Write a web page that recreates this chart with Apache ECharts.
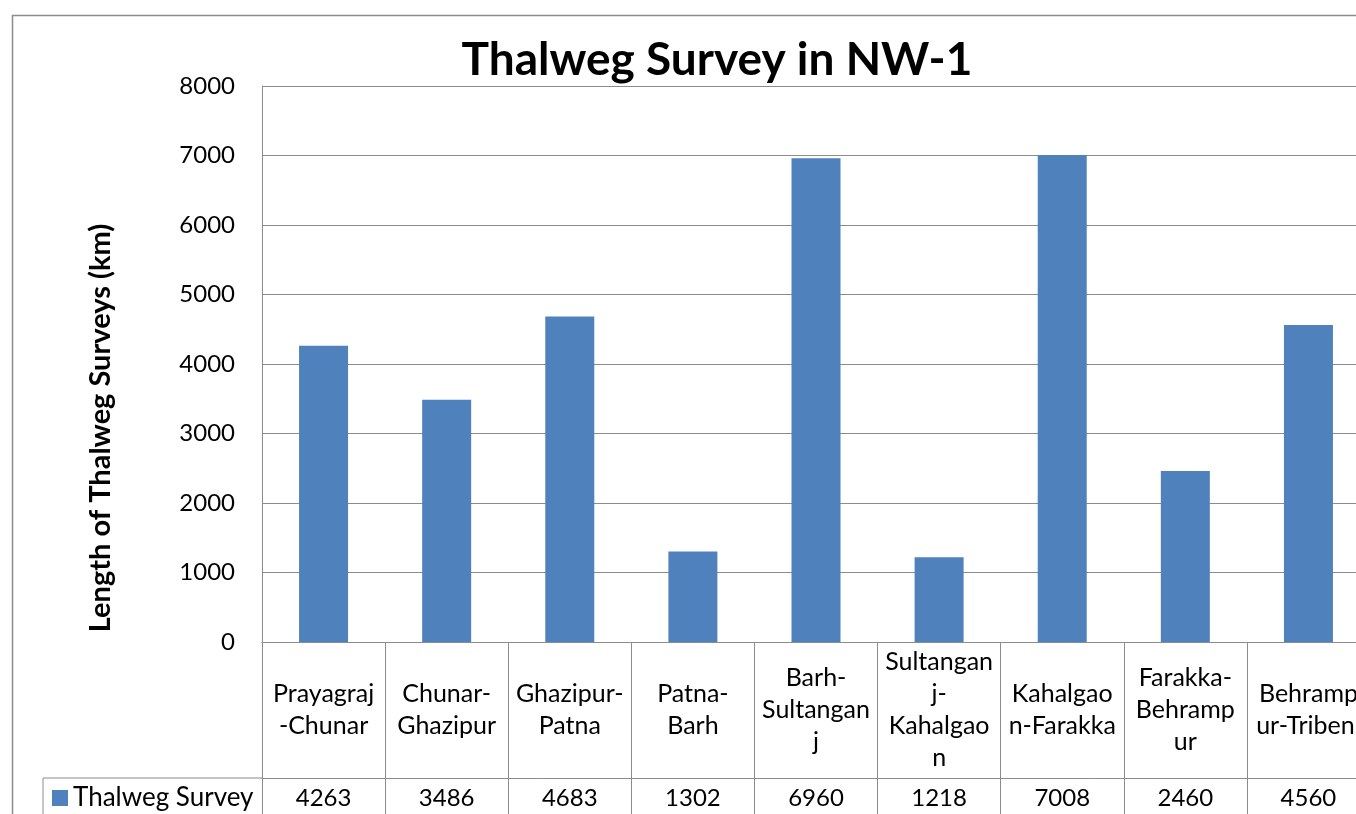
<!DOCTYPE html>
<html>
<head>
<meta charset="utf-8">
<style>
  html, body { margin: 0; padding: 0; background: #fff; overflow: hidden; }
  #chart { width: 1390px; height: 814px; }
</style>
<script src="https://cdn.jsdelivr.net/npm/echarts@6/dist/echarts.min.js"></script>
</head>
<body>
<div id="chart"></div>
<script>
// categories as wrapped in the source table
const categories = [
  'Prayagraj\n-Chunar',
  'Chunar-\nGhazipur',
  'Ghazipur-\nPatna',
  'Patna-\nBarh',
  'Barh-\nSultangan\nj',
  'Sultangan\nj-\nKahalgao\nn',
  'Kahalgao\nn-Farakka',
  'Farakka-\nBehramp\nur',
  'Behramp\nur-Tribeni'
]
const surveyValues = [4263, 3486, 4683, 1302, 6960, 1218, 7008, 2460, 4560]
const seriesName = 'Thalweg Survey'

const font = 'Lato, "Noto Sans", sans-serif'
const lineColor = '#8c8c8c'

const chart = echarts.init(document.getElementById('chart'))

const option = {
  backgroundColor: '#fff',
  animation: false,
  title: {
    text: 'Thalweg Survey in NW-1',
    left: 712,
    top: 32,
    textAlign: 'center',
    textStyle: { fontFamily: font, fontSize: 46, fontWeight: 'bold', color: '#000' }
  },
  legend: {
    data: [seriesName],
    left: 52,
    top: 785,
    padding: 0,
    icon: 'rect',
    itemWidth: 16,
    itemHeight: 16,
    itemGap: 6,
    textStyle: { fontFamily: font, fontSize: 26, color: '#000' }
  },
  grid: { left: 262, top: 86, width: 1108, height: 556 },
  xAxis: [
    {
      type: 'category',
      data: categories,
      axisLine: { lineStyle: { color: lineColor } },
      axisTick: { show: true, length: 180, interval: 0, lineStyle: { color: lineColor } },
      axisLabel: {
        interval: 0,
        margin: 68,
        verticalAlign: 'middle',
        lineHeight: 32,
        fontFamily: font,
        fontSize: 25,
        color: '#000'
      }
    },
    {
      type: 'category',
      position: 'bottom',
      offset: 136,
      data: surveyValues.map(String),
      axisLine: { show: true, lineStyle: { color: lineColor } },
      axisTick: { show: false },
      axisLabel: {
        interval: 0,
        margin: 20,
        verticalAlign: 'middle',
        fontFamily: font,
        fontSize: 24,
        color: '#000'
      }
    }
  ],
  yAxis: {
    type: 'value',
    min: 0,
    max: 8000,
    interval: 1000,
    name: 'Length of Thalweg Surveys (km)',
    nameLocation: 'middle',
    nameRotate: 90,
    nameGap: 147,
    nameTextStyle: {
      fontFamily: font,
      fontSize: 29,
      fontWeight: 'bold',
      color: '#000',
      padding: [0, 128, 0, 0]
    },
    axisLine: { show: true, lineStyle: { color: lineColor } },
    axisTick: { show: false },
    axisLabel: {
      margin: 27,
      fontFamily: font,
      fontSize: 24,
      color: '#000',
      formatter: (v) => String(v)
    },
    splitLine: { lineStyle: { color: lineColor, width: 1 } }
  },
  graphic: [
    {
      type: 'rect',
      left: 10,
      top: 13,
      shape: { width: 1500, height: 900 },
      style: { fill: 'none', stroke: lineColor, lineWidth: 1.5 },
      silent: true
    },
    {
      type: 'line',
      shape: { x1: 43, y1: 778, x2: 262, y2: 778 },
      style: { stroke: lineColor, lineWidth: 1 }
    },
    {
      type: 'line',
      shape: { x1: 43, y1: 778, x2: 43, y2: 814 },
      style: { stroke: lineColor, lineWidth: 1 }
    }
  ],
  series: [
    {
      name: seriesName,
      type: 'bar',
      xAxisIndex: 0,
      data: surveyValues,
      barWidth: 49,
      itemStyle: { color: '#4F81BD' }
    }
  ]
}

chart.setOption(option)
</script>
</body>
</html>
